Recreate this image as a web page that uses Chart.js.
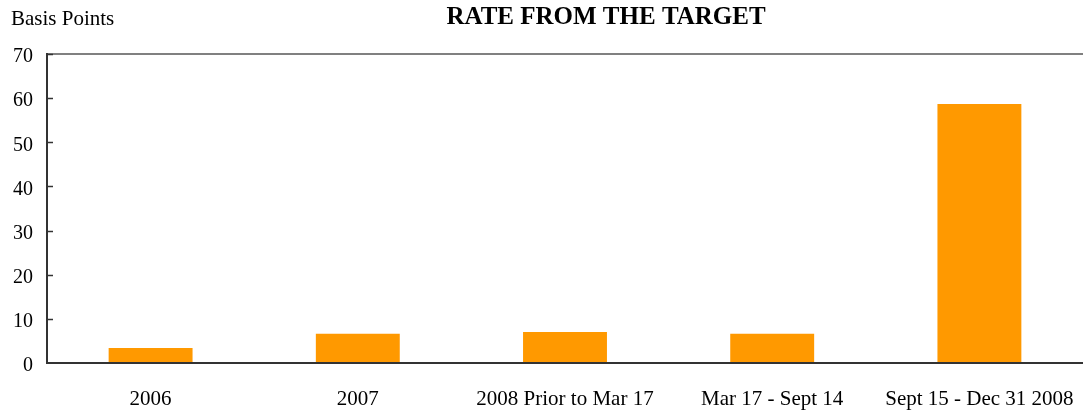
<!DOCTYPE html>
<html>
<head>
<meta charset="utf-8">
<script src="https://cdn.jsdelivr.net/npm/chart.js@4"></script>
<style>
html,body{margin:0;padding:0;background:#fff;}
#wrap{width:1083px;height:410px;position:relative;}
</style>
</head>
<body>
<div id="wrap"><canvas id="c" width="1083" height="410"></canvas></div>
<script>
const categories = ["2006", "2007", "2008 Prior to Mar 17", "Mar 17 - Sept 14", "Sept 15 - Dec 31 2008"];
const rateValues = [3.4, 6.6, 7.0, 6.6, 58.7];
const yTicks = [0, 10, 20, 30, 40, 50, 60, 70];
const chartTitle = "RATE FROM THE TARGET";
const yAxisTitle = "Basis Points";

const FONT = "'Liberation Serif', 'DejaVu Serif', serif";

const extras = {
  id: 'extras',
  afterDraw(chart) {
    const ctx = chart.ctx;
    const y = chart.scales.y;
    const area = chart.chartArea;
    ctx.save();
    ctx.strokeStyle = '#333333';
    ctx.lineWidth = 1.5;
    yTicks.forEach(v => {
      if (v === 0) return;
      const py = Math.round(y.getPixelForValue(v)) + 0.5;
      ctx.beginPath();
      ctx.moveTo(area.left, py);
      ctx.lineTo(area.left + 6, py);
      ctx.stroke();
    });
    ctx.fillStyle = '#000';
    ctx.textBaseline = 'middle';
    ctx.font = "bold 25px " + FONT;
    ctx.textAlign = 'center';
    ctx.fillText(chartTitle, 606, 18);
    ctx.font = "21px " + FONT;
    ctx.textAlign = 'left';
    ctx.fillText(yAxisTitle, 11, 19);
    ctx.restore();
  }
};

new Chart(document.getElementById('c'), {
  type: 'bar',
  data: {
    labels: categories,
    datasets: [{
      data: rateValues,
      backgroundColor: '#FF9900',
      borderWidth: 0,
      categoryPercentage: 1.0,
      barPercentage: 0.405
    }]
  },
  options: {
    responsive: false,
    animation: false,
    devicePixelRatio: 1,
    layout: { padding: { top: 54, left: 0, right: 0, bottom: 0 } },
    plugins: { legend: { display: false }, tooltip: { enabled: false }, title: { display: false } },
    scales: {
      x: {
        grid: { display: false, drawTicks: false },
        border: { display: true, color: '#333333', width: 2 },
        ticks: { color: '#000', font: { family: FONT, size: 21 }, padding: 24, maxRotation: 0, autoSkip: false },
        afterFit(s) { s.height = 47; s.paddingLeft = 0; s.paddingRight = 0; }
      },
      y: {
        min: 0, max: 70,
        afterBuildTicks(s) { s.ticks = yTicks.map(v => ({ value: v })); },
        grid: {
          drawTicks: false,
          lineWidth: 2,
          color: c => (c.tick && c.tick.value === 70) ? '#808080' : 'rgba(0,0,0,0)'
        },
        border: { display: true, color: '#333333', width: 2 },
        ticks: { color: '#000', font: { family: FONT, size: 20 }, padding: 14, labelOffset: 3 },
        afterFit(s) { s.width = 47; s.paddingTop = 0; s.paddingBottom = 0; }
      }
    }
  },
  plugins: [extras]
});
</script>
</body>
</html>
